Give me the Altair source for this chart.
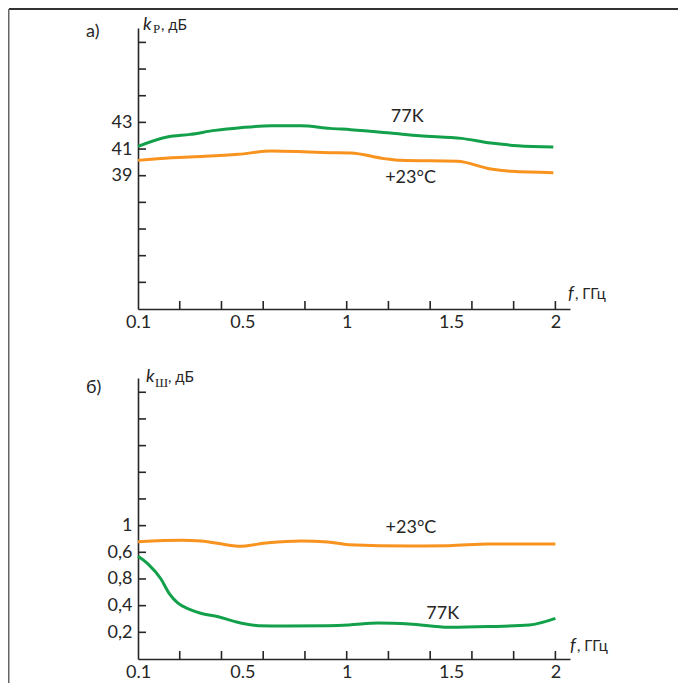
import altair as alt
import pandas as pd

# ---------------- data ----------------
# panel а) gain k_P, dB
top_green_f = [0, 0.14, 0.25, 0.37, 0.49, 0.64, 0.78, 0.92, 1.02, 1.21, 1.35, 1.55, 1.69, 1.82, 1.99]
top_green_v = [41.2, 41.9, 42.1, 42.4, 42.6, 42.75, 42.75, 42.55, 42.45, 42.2, 42.0, 41.8, 41.45, 41.25, 41.15]
top_orange_f = [0, 0.16, 0.32, 0.48, 0.64, 0.79, 0.92, 1.02, 1.18, 1.26, 1.53, 1.69, 1.79, 1.99]
top_orange_v = [40.15, 40.35, 40.45, 40.6, 40.85, 40.8, 40.73, 40.7, 40.28, 40.15, 40.08, 39.5, 39.33, 39.23]

# panel б) noise k_Ш, dB
bot_orange_f = [0, 0.21, 0.30, 0.43, 0.48, 0.625, 0.78, 0.91, 1.01, 1.30, 1.49, 1.68, 2.0]
bot_orange_v = [0.88, 0.89, 0.885, 0.855, 0.845, 0.872, 0.885, 0.878, 0.857, 0.848, 0.85, 0.8625, 0.8625]
bot_green_f = [0, 0.05, 0.11, 0.15, 0.19, 0.25, 0.30, 0.385, 0.465, 0.577, 0.705, 0.91, 1.01, 1.15, 1.30, 1.49, 1.68, 1.875, 2.0]
bot_green_v = [0.77, 0.71, 0.60, 0.49, 0.42, 0.37, 0.343, 0.317, 0.28, 0.25, 0.248, 0.25, 0.255, 0.27, 0.263, 0.238, 0.243, 0.255, 0.305]

series_names = ["77K", "+23°C"]
series_colors = ["#13a04b", "#f7931e"]

x_label_values = [0, 0.5, 1, 1.5, 2]
x_label_texts = ["0.1", "0.5", "1", "1.5", "2"]
x_tick_values = [0.2, 0.4, 0.6, 0.8, 1.0, 1.2, 1.4, 1.6, 1.8, 2.0]

top_label_values = [39, 41, 43]
top_tick_values = [31, 33, 35, 37, 39, 41, 43, 45, 47, 49]

bot_label_values = [1.0, 0.8, 0.6, 0.4, 0.2]
bot_label_texts = ["1", "0,6", "0,8", "0,4", "0,2"]
bot_tick_values = [0.2, 0.4, 0.6, 0.8, 1.0, 1.2, 1.4, 1.6, 1.8, 2.0]

# curve annotations (frequency, value, text)
top_annot = pd.DataFrame({"f": [1.29, 1.306], "v": [43.42, 38.84], "t": ["77K", "+23°C"]})
bot_annot = pd.DataFrame({"f": [1.308, 1.46], "v": [0.979, 0.3375], "t": ["+23°C", "77K"]})

# ---------------- layout ----------------
W, H = 432, 281
FONT = "Lato"
INK = "#262626"

def series_df(pairs):
    rows = []
    for name, fs, vs in pairs:
        for f, v in zip(fs, vs):
            rows.append({"f": f, "v": v, "s": name})
    return pd.DataFrame(rows)

def expr_map(vals, texts):
    parts = [f"datum.value == {v} ? '{t}'" for v, t in zip(vals, texts)]
    return " : ".join(parts) + " : ''"

def one(text):
    return alt.Chart(pd.DataFrame({"t": [text]}))

color = alt.Color("s:N", scale=alt.Scale(domain=series_names, range=series_colors), legend=None)

def panel(df, ydomain, ylabel_vals, ylabel_expr, ytick_vals, annot, sub, letter, letter_y, kx, ky, subx, suby, dbx, fx, fy):
    xs = alt.Scale(domain=[0, 2.07], nice=False)
    ys = alt.Scale(domain=ydomain, nice=False)
    xax = alt.Axis(values=x_label_values, labelExpr=expr_map(x_label_values, x_label_texts),
                   ticks=False, tickSize=0, grid=False, labelFlush=False, labelPadding=4,
                   labelFontSize=18, labelFont=FONT, labelColor=INK, domainColor=INK,
                   domainWidth=1.6, title=None, labelOverlap=False)
    yax = alt.Axis(values=ylabel_vals, labelExpr=ylabel_expr, ticks=False, tickSize=0, grid=False,
                   labelPadding=6, labelFontSize=18, labelFont=FONT, labelColor=INK,
                   domainColor=INK, domainWidth=1.6, title=None, labelOverlap=False)
    base = alt.Chart(df)
    lines = base.mark_line(strokeWidth=3, interpolate="monotone").encode(
        x=alt.X("f:Q", scale=xs, axis=xax),
        y=alt.Y("v:Q", scale=ys, axis=yax),
        color=color,
        detail="s:N",
    )
    yt = alt.Chart(pd.DataFrame({"v": ytick_vals})).mark_rule(color=INK, strokeWidth=1.6).encode(
        y=alt.Y("v:Q", scale=ys), x=alt.value(0), x2=alt.value(8))
    xt = alt.Chart(pd.DataFrame({"f": x_tick_values})).mark_rule(color=INK, strokeWidth=1.6).encode(
        x=alt.X("f:Q", scale=xs), y=alt.value(H), y2=alt.value(H - 8))
    ann = alt.Chart(annot).mark_text(font=FONT, fontSize=18, color=INK, align="center", baseline="middle").encode(
        x=alt.X("f:Q", scale=xs), y=alt.Y("v:Q", scale=ys), text="t:N")
    k = one("k").mark_text(font=FONT, fontSize=18, fontStyle="italic", color=INK, align="left",
                           baseline="alphabetic").encode(x=alt.value(kx), y=alt.value(ky), text="t:N")
    s = one(sub).mark_text(font="Liberation Serif", fontSize=13, color=INK, align="left",
                           baseline="alphabetic").encode(x=alt.value(subx), y=alt.value(suby), text="t:N")
    db = one(", дБ").mark_text(font=FONT, fontSize=15, color=INK, align="left",
                               baseline="alphabetic").encode(x=alt.value(dbx), y=alt.value(ky), text="t:N")
    fl = one("f").mark_text(font=FONT, fontSize=18, fontStyle="italic", color=INK, align="left",
                            baseline="alphabetic").encode(x=alt.value(fx), y=alt.value(fy), text="t:N")
    gl = one(", ГГц").mark_text(font=FONT, fontSize=15, color=INK, align="left",
                                baseline="alphabetic").encode(x=alt.value(fx + 7), y=alt.value(fy), text="t:N")
    lt = one(letter).mark_text(font=FONT, fontSize=18, color=INK, align="left",
                               baseline="alphabetic").encode(x=alt.value(-52), y=alt.value(letter_y), text="t:N")
    return [lines, yt, xt, ann, k, s, db, fl, gl, lt]

top_df = series_df([("77K", top_green_f, top_green_v), ("+23°C", top_orange_f, top_orange_v)])
bot_df = series_df([("77K", bot_green_f, bot_green_v), ("+23°C", bot_orange_f, bot_orange_v)])

top_layers = panel(top_df, [29, 50.08], top_label_values, "datum.label", top_tick_values, top_annot,
                   "Р", "а)", 9, 5, 2, 15, 5, 23, 430, H - 10)
bot_layers = panel(bot_df, [0, 2.107], bot_label_values, expr_map(bot_label_values, bot_label_texts),
                   bot_tick_values, bot_annot, "Ш", "б)", 15, 8, 4, 17, 9, 30, 432, H - 8)

# frame lines (top and left)
frame_top = one("").mark_rule(color="#333333", strokeWidth=2).encode(
    x=alt.value(-129), x2=alt.value(540), y=alt.value(-19))
frame_left = one("").mark_rule(color="#666666", strokeWidth=1.5).encode(
    x=alt.value(-129.25), y=alt.value(-19), y2=alt.value(655))

top = alt.layer(*(top_layers + [frame_top, frame_left])).properties(width=W, height=H)
bot = alt.layer(*bot_layers).properties(width=W, height=H)

chart = alt.vconcat(top, bot, spacing=69, bounds="flush").properties(padding=0).configure_view(stroke=None)

chart.save("out.html", embed_options={"renderer": "svg", "actions": False})
